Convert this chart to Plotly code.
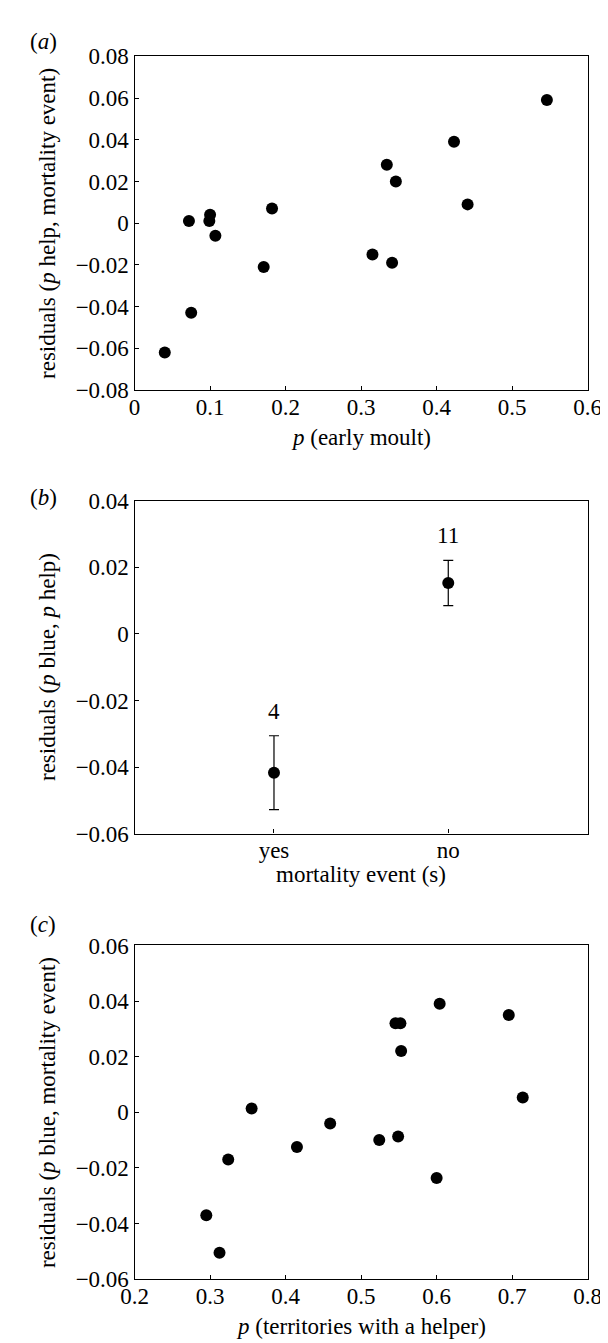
import plotly.graph_objects as go

# ---------------- data ----------------
# (a) p(early moult) vs residuals (p help, mortality event)
a_x = [0.040, 0.072, 0.075, 0.099, 0.100, 0.107, 0.171, 0.182,
       0.315, 0.334, 0.341, 0.346, 0.423, 0.441, 0.546]
a_y = [-0.062, 0.001, -0.043, 0.001, 0.004, -0.006, -0.021, 0.007,
       -0.015, 0.028, -0.019, 0.020, 0.039, 0.009, 0.059]

# (b) mortality event categories
b_cats = ["yes", "no"]
b_pos = [1, 2]
b_mean = [-0.0417, 0.0153]
b_err = [0.0111, 0.0068]
b_n = ["4", "11"]

# (c) p(territories with a helper) vs residuals (p blue, mortality event)
c_x = [0.295, 0.3125, 0.324, 0.355, 0.415, 0.459, 0.524, 0.5455,
       0.549, 0.552, 0.553, 0.600, 0.604, 0.6955, 0.714]
c_y = [-0.037, -0.0505, -0.017, 0.0014, -0.0125, -0.004, -0.010, 0.032,
       -0.0087, 0.032, 0.022, -0.0236, 0.039, 0.035, 0.0053]

# tick labels
a_xticks = [0, 0.1, 0.2, 0.3, 0.4, 0.5, 0.6]
a_xticktext = ["0", "0.1", "0.2", "0.3", "0.4", "0.5", "0.6"]
a_yticks = [-0.08, -0.06, -0.04, -0.02, 0, 0.02, 0.04, 0.06, 0.08]
a_yticktext = ["\u22120.08", "\u22120.06", "\u22120.04", "\u22120.02", "0",
               "0.02", "0.04", "0.06", "0.08"]
b_yticks = [-0.06, -0.04, -0.02, 0, 0.02, 0.04]
b_yticktext = ["\u22120.06", "\u22120.04", "\u22120.02", "0", "0.02", "0.04"]
c_xticks = [0.2, 0.3, 0.4, 0.5, 0.6, 0.7, 0.8]
c_xticktext = ["0.2", "0.3", "0.4", "0.5", "0.6", "0.7", "0.8"]
c_yticks = [-0.06, -0.04, -0.02, 0, 0.02, 0.04, 0.06]
c_yticktext = ["\u22120.06", "\u22120.04", "\u22120.02", "0", "0.02", "0.04", "0.06"]

# ---------------- layout geometry ----------------
W, H = 608, 1343
FONT = "Times New Roman, Liberation Serif, Times, serif"
FS = 23

def px_x(p):
    return p / W

def px_y(p):
    return 1 - p / H

xdom = [px_x(118), px_x(593)]
dom_a = [px_y(377), px_y(37)]
dom_b = [px_y(829), px_y(490)]
dom_c = [px_y(1283), px_y(943)]

fig = go.Figure()

mk = dict(color="black", size=12)

fig.add_trace(go.Scatter(x=a_x, y=a_y, mode="markers", marker=mk,
                         xaxis="x", yaxis="y", showlegend=False))
fig.add_trace(go.Scatter(x=b_pos, y=b_mean, mode="markers", marker=mk,
                         error_y=dict(type="data", array=b_err, visible=True,
                                      color="black", thickness=1.2, width=5),
                         xaxis="x2", yaxis="y2", showlegend=False))
fig.add_trace(go.Scatter(x=c_x, y=c_y, mode="markers", marker=mk,
                         xaxis="x3", yaxis="y3", showlegend=False))

axis_common = dict(showline=True, linecolor="black", linewidth=1.2, mirror=True,
                   ticks="inside", ticklen=4, tickwidth=1.2, tickcolor="black",
                   showgrid=False, zeroline=False,
                   tickfont=dict(family=FONT, size=FS, color="black"))

fig.update_layout(
    width=W, height=H,
    margin=dict(l=0, r=0, t=0, b=0),
    paper_bgcolor="white", plot_bgcolor="white",
    font=dict(family=FONT, size=FS, color="black"),
    xaxis=dict(domain=xdom, anchor="y", range=[0, 0.6], ticklabelstandoff=-4,
               tickvals=a_xticks, ticktext=a_xticktext, **axis_common),
    yaxis=dict(domain=dom_a, anchor="x", range=[-0.08, 0.08],
               tickvals=a_yticks, ticktext=a_yticktext, **axis_common),
    xaxis2=dict(domain=xdom, anchor="y2", range=[0.2, 2.8], ticklabelstandoff=-4,
                tickvals=b_pos, ticktext=b_cats, **axis_common),
    yaxis2=dict(domain=dom_b, anchor="x2", range=[-0.06, 0.04],
                tickvals=b_yticks, ticktext=b_yticktext, **axis_common),
    xaxis3=dict(domain=xdom, anchor="y3", range=[0.2, 0.8], ticklabelstandoff=-4,
                tickvals=c_xticks, ticktext=c_xticktext, **axis_common),
    yaxis3=dict(domain=dom_c, anchor="x3", range=[-0.06, 0.06],
                tickvals=c_yticks, ticktext=c_yticktext, **axis_common),
)

ann = []
tf = dict(family=FONT, size=FS, color="black")
# panel labels
ann.append(dict(text="(<i>a</i>)", x=px_x(6), y=px_y(22), xref="paper", yref="paper",
                xanchor="left", yanchor="middle", showarrow=False, font=tf))
ann.append(dict(text="(<i>b</i>)", x=px_x(6), y=px_y(487), xref="paper", yref="paper",
                xanchor="left", yanchor="middle", showarrow=False, font=tf))
ann.append(dict(text="(<i>c</i>)", x=px_x(6), y=px_y(922), xref="paper", yref="paper",
                xanchor="left", yanchor="middle", showarrow=False, font=tf))
# y-axis titles
ytitles = ["residuals (<i>p</i> help, mortality event)",
           "residuals (<i>p</i> blue, <i>p</i> help)",
           "residuals (<i>p</i> blue, mortality event)"]
for t, d in zip(ytitles, [dom_a, dom_b, dom_c]):
    ann.append(dict(text=t, x=px_x(26), y=(d[0] + d[1]) / 2, xref="paper", yref="paper",
                    xanchor="center", yanchor="middle", textangle=-90,
                    showarrow=False, font=tf))
# x-axis titles
xtitles = [("<i>p</i> (early moult)", 425),
           ("mortality event (s)", 871),
           ("<i>p</i> (territories with a helper)", 1331)]
for t, yy in xtitles:
    ann.append(dict(text=t, x=(xdom[0] + xdom[1]) / 2, y=px_y(yy), xref="paper",
                    yref="paper", xanchor="center", yanchor="middle",
                    showarrow=False, font=tf))
# n labels in panel b
for xp, m, e, n in zip(b_pos, b_mean, b_err, b_n):
    ann.append(dict(text=n, x=xp, y=m + e, xref="x2", yref="y2",
                    xanchor="center", yanchor="bottom", yshift=10,
                    showarrow=False, font=tf))

fig.update_layout(annotations=ann)
fig.write_html("out.html")
